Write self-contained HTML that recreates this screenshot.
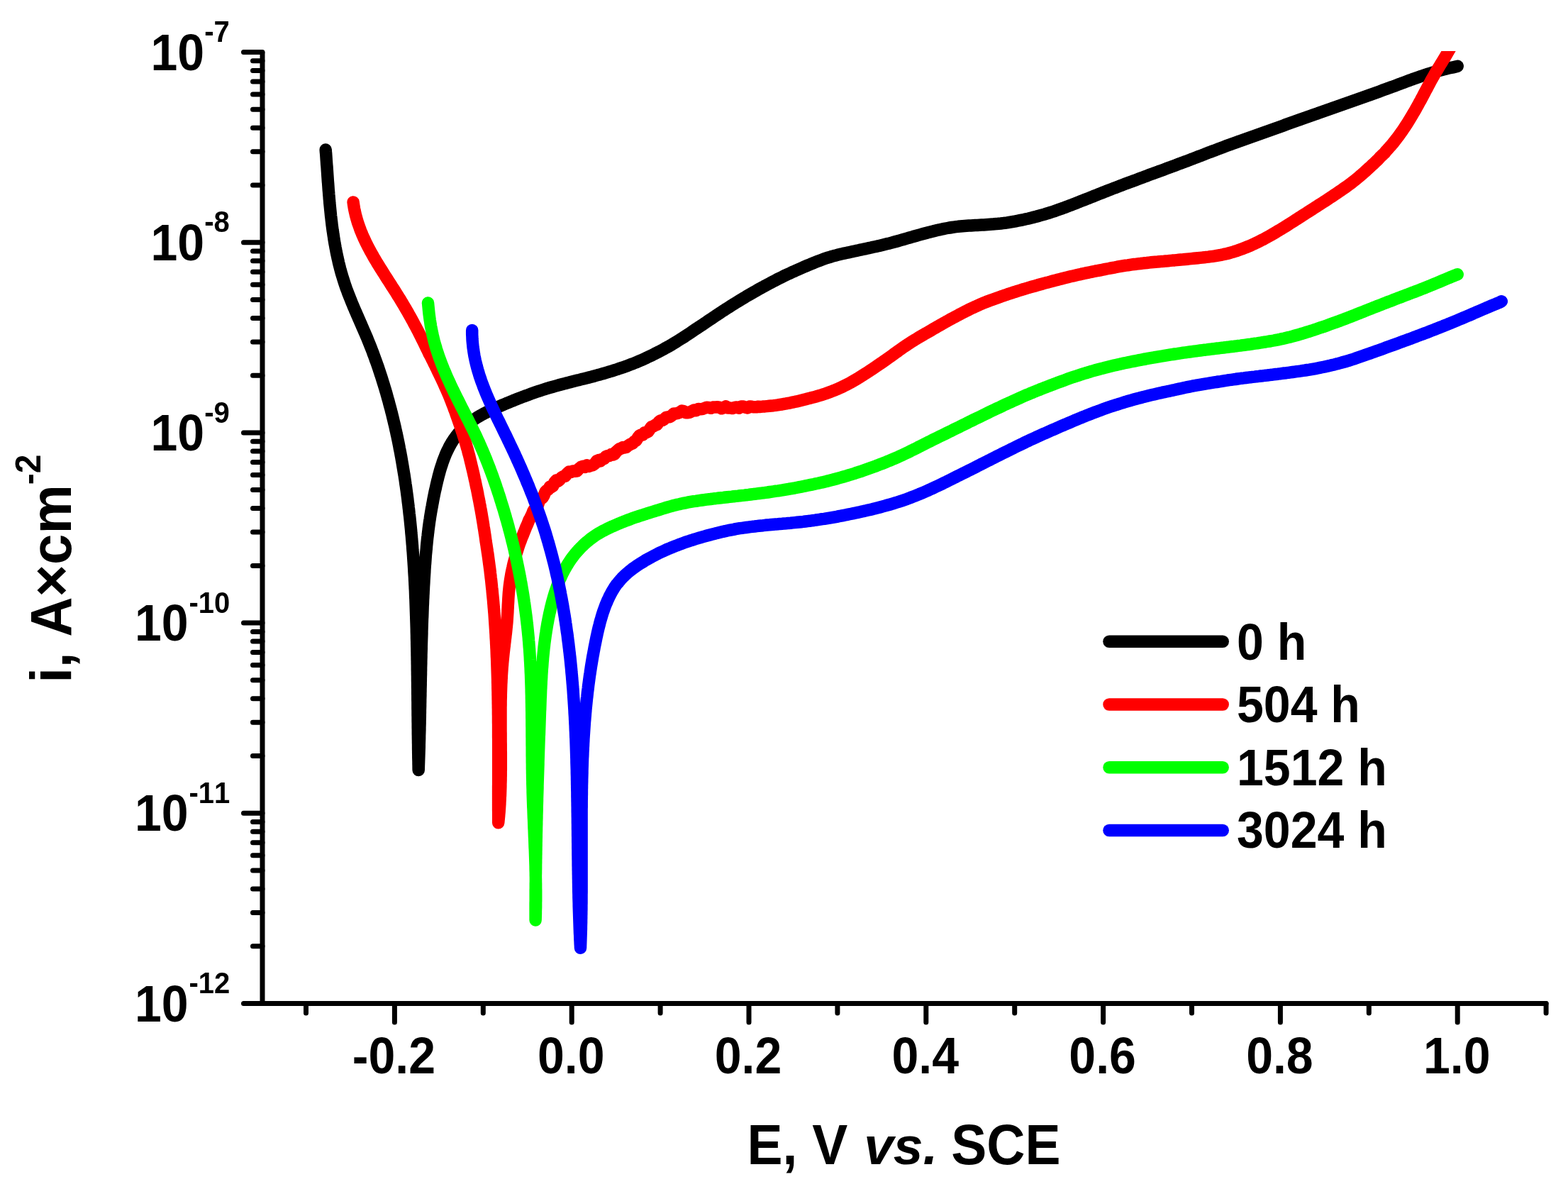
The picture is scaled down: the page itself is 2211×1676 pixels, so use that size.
<!DOCTYPE html>
<html lang="en"><head><meta charset="utf-8"><title>Polarization curves</title>
<style>html,body{margin:0;padding:0;background:#fff;}body{width:2211px;height:1676px;overflow:hidden;}svg{display:block;}text{font-family:'Liberation Sans', Arial, Helvetica, sans-serif;font-weight:bold;fill:#000;font-kerning:none;}</style>
</head><body>
<svg xmlns="http://www.w3.org/2000/svg" width="2211" height="1676" viewBox="0 0 2211 1676">
<rect width="2211" height="1676" fill="#ffffff"/>
<defs><clipPath id="plot"><rect x="300" y="72" width="1911" height="1400"/></clipPath></defs>
<g clip-path="url(#plot)">
<path d="M459.2,211.1 L459.4,214.1 L459.7,217.0 L459.9,220.0 L460.1,223.0 L460.3,226.0 L460.5,228.9 L460.7,231.9 L461.0,234.9 L461.2,237.9 L461.4,240.9 L461.6,243.9 L461.8,246.9 L462.0,249.9 L462.2,252.9 L462.4,256.0 L462.7,259.0 L462.9,262.0 L463.1,265.0 L463.3,268.0 L463.6,271.0 L463.8,274.1 L464.1,277.1 L464.3,280.1 L464.6,283.1 L464.8,286.2 L465.1,289.2 L465.4,292.2 L465.7,295.2 L466.0,298.2 L466.3,301.2 L466.6,304.3 L467.0,307.3 L467.3,310.3 L467.7,313.3 L468.0,316.3 L468.4,319.3 L468.8,322.3 L469.2,325.3 L469.7,328.3 L470.1,331.3 L470.6,334.3 L471.0,337.3 L471.5,340.3 L472.0,343.2 L472.6,346.2 L473.1,349.2 L473.7,352.1 L474.2,355.1 L474.8,358.0 L475.5,361.0 L476.1,363.9 L476.8,366.8 L477.4,369.8 L478.1,372.7 L478.9,375.6 L479.6,378.5 L480.4,381.4 L481.2,384.3 L482.0,387.1 L482.9,390.0 L483.8,392.9 L484.7,395.7 L485.6,398.6 L486.5,401.4 L487.5,404.2 L488.5,407.1 L489.6,409.9 L490.6,412.7 L491.7,415.5 L492.8,418.3 L493.9,421.0 L495.0,423.8 L496.1,426.6 L497.3,429.4 L498.4,432.1 L499.6,434.9 L500.8,437.7 L502.0,440.4 L503.2,443.2 L504.4,445.9 L505.6,448.7 L506.8,451.4 L508.0,454.2 L509.2,456.9 L510.4,459.7 L511.6,462.5 L512.8,465.2 L514.0,468.0 L515.2,470.7 L516.4,473.5 L517.6,476.3 L518.7,479.1 L519.8,481.9 L521.0,484.7 L522.1,487.5 L523.2,490.3 L524.3,493.1 L525.4,495.9 L526.4,498.8 L527.5,501.6 L528.5,504.4 L529.5,507.3 L530.6,510.1 L531.6,513.0 L532.6,515.8 L533.6,518.7 L534.5,521.5 L535.5,524.4 L536.4,527.3 L537.4,530.2 L538.3,533.0 L539.2,535.9 L540.1,538.8 L541.0,541.7 L541.9,544.6 L542.8,547.5 L543.6,550.3 L544.5,553.2 L545.3,556.1 L546.1,559.0 L546.9,561.9 L547.8,564.8 L548.5,567.7 L549.3,570.7 L550.1,573.6 L550.9,576.5 L551.6,579.4 L552.4,582.3 L553.1,585.2 L553.8,588.1 L554.5,591.1 L555.2,594.0 L555.9,596.9 L556.6,599.8 L557.3,602.8 L557.9,605.7 L558.6,608.6 L559.2,611.6 L559.9,614.5 L560.5,617.4 L561.1,620.4 L561.7,623.3 L562.3,626.3 L562.9,629.2 L563.4,632.2 L564.0,635.1 L564.6,638.1 L565.1,641.0 L565.7,644.0 L566.2,646.9 L566.7,649.9 L567.2,652.8 L567.7,655.8 L568.2,658.8 L568.7,661.7 L569.2,664.7 L569.7,667.7 L570.2,670.6 L570.6,673.6 L571.1,676.6 L571.5,679.5 L571.9,682.5 L572.4,685.5 L572.8,688.5 L573.2,691.4 L573.6,694.4 L574.0,697.4 L574.4,700.4 L574.8,703.4 L575.1,706.3 L575.5,709.3 L575.9,712.3 L576.2,715.3 L576.6,718.3 L576.9,721.3 L577.2,724.3 L577.6,727.3 L577.9,730.2 L578.2,733.2 L578.5,736.2 L578.8,739.2 L579.1,742.2 L579.4,745.2 L579.7,748.2 L579.9,751.2 L580.2,754.2 L580.5,757.2 L580.7,760.2 L581.0,763.2 L581.2,766.2 L581.5,769.2 L581.7,772.2 L581.9,775.3 L582.2,778.3 L582.4,781.3 L582.6,784.3 L582.8,787.3 L583.0,790.3 L583.2,793.3 L583.4,796.3 L583.6,799.3 L583.8,802.3 L583.9,805.4 L584.1,808.4 L584.3,811.4 L584.5,814.4 L584.6,817.4 L584.8,820.4 L584.9,823.4 L585.1,826.5 L585.2,829.5 L585.4,832.5 L585.5,835.5 L585.6,838.5 L585.7,841.6 L585.9,844.6 L586.0,847.6 L586.1,850.6 L586.2,853.6 L586.3,856.7 L586.4,859.7 L586.5,862.7 L586.6,865.7 L586.7,868.7 L586.8,871.8 L586.9,874.8 L587.0,877.8 L587.1,880.8 L587.2,883.9 L587.3,886.9 L587.3,889.9 L587.4,892.9 L587.5,895.9 L587.5,899.0 L587.6,902.0 L587.7,905.0 L587.7,908.0 L587.8,911.1 L587.9,914.1 L587.9,917.1 L588.0,920.1 L588.0,923.1 L588.1,926.2 L588.1,929.2 L588.2,932.2 L588.2,935.2 L588.3,938.3 L588.3,941.3 L588.3,944.3 L588.4,947.3 L588.4,950.3 L588.5,953.4 L588.5,956.4 L588.5,959.4 L588.6,962.4 L588.6,965.4 L588.6,968.4 L588.7,971.5 L588.7,974.5 L588.7,977.5 L588.8,980.5 L588.8,983.5 L588.8,986.5 L588.9,989.6 L588.9,992.6 L588.9,995.6 L588.9,998.6 L589.0,1001.6 L589.0,1004.6 L589.0,1007.6 L589.1,1010.6 L589.1,1013.6 L589.1,1016.7 L589.2,1019.7 L589.2,1022.7 L589.2,1025.7 L589.3,1028.7 L589.3,1031.7 L589.3,1034.7 L589.4,1037.7 L589.4,1040.7 L589.5,1043.7 L589.5,1046.7 L589.6,1049.7 L589.6,1052.7 L589.6,1055.7 L589.7,1058.7 L589.7,1061.7 L589.8,1064.7 L589.8,1067.7 L589.9,1070.7 L590.0,1073.6 L590.0,1076.6 L590.1,1079.6 L590.1,1082.6 L590.2,1085.6 L590.3,1082.6 L590.4,1079.6 L590.5,1076.6 L590.6,1073.6 L590.7,1070.6 L590.8,1067.6 L590.9,1064.6 L591.0,1061.6 L591.1,1058.6 L591.2,1055.6 L591.3,1052.6 L591.3,1049.6 L591.4,1046.6 L591.5,1043.6 L591.6,1040.6 L591.6,1037.6 L591.7,1034.6 L591.8,1031.6 L591.9,1028.6 L591.9,1025.6 L592.0,1022.6 L592.1,1019.6 L592.1,1016.6 L592.2,1013.6 L592.3,1010.5 L592.3,1007.5 L592.4,1004.5 L592.4,1001.5 L592.5,998.5 L592.6,995.5 L592.6,992.5 L592.7,989.5 L592.7,986.5 L592.8,983.5 L592.9,980.5 L592.9,977.5 L593.0,974.5 L593.0,971.4 L593.1,968.4 L593.2,965.4 L593.2,962.4 L593.3,959.4 L593.3,956.4 L593.4,953.4 L593.5,950.4 L593.5,947.4 L593.6,944.4 L593.6,941.3 L593.7,938.3 L593.8,935.3 L593.8,932.3 L593.9,929.3 L594.0,926.3 L594.0,923.3 L594.1,920.3 L594.2,917.3 L594.3,914.3 L594.3,911.3 L594.4,908.3 L594.5,905.2 L594.6,902.2 L594.7,899.2 L594.8,896.2 L594.9,893.2 L594.9,890.2 L595.0,887.2 L595.1,884.2 L595.2,881.2 L595.3,878.2 L595.4,875.2 L595.5,872.2 L595.7,869.2 L595.8,866.2 L595.9,863.2 L596.0,860.2 L596.1,857.2 L596.2,854.2 L596.4,851.2 L596.5,848.2 L596.6,845.2 L596.8,842.2 L596.9,839.2 L597.1,836.2 L597.2,833.2 L597.4,830.2 L597.5,827.2 L597.7,824.2 L597.9,821.2 L598.0,818.2 L598.2,815.2 L598.4,812.2 L598.6,809.2 L598.8,806.2 L598.9,803.2 L599.1,800.2 L599.3,797.2 L599.6,794.2 L599.8,791.2 L600.0,788.2 L600.2,785.3 L600.4,782.3 L600.7,779.3 L601.0,776.3 L601.3,773.3 L601.5,770.3 L601.8,767.3 L602.1,764.4 L602.4,761.4 L602.7,758.4 L603.1,755.4 L603.4,752.4 L603.8,749.5 L604.1,746.5 L604.5,743.5 L604.9,740.5 L605.3,737.5 L605.7,734.6 L606.2,731.6 L606.6,728.6 L607.1,725.6 L607.6,722.6 L608.1,719.7 L608.6,716.7 L609.2,713.7 L609.7,710.7 L610.3,707.7 L610.8,704.8 L611.4,701.8 L612.0,698.8 L612.6,695.8 L613.2,692.8 L613.9,689.9 L614.6,686.9 L615.2,683.9 L615.9,680.9 L616.6,677.9 L617.4,674.9 L618.1,672.0 L618.9,669.0 L619.7,666.1 L620.5,663.1 L621.4,660.2 L622.3,657.3 L623.3,654.4 L624.2,651.5 L625.2,648.7 L626.3,645.9 L627.4,643.1 L628.5,640.3 L629.7,637.6 L631.0,634.9 L632.3,632.3 L633.6,629.6 L635.0,627.1 L636.5,624.5 L638.0,622.1 L639.6,619.6 L641.3,617.2 L643.0,614.9 L644.8,612.6 L646.6,610.4 L648.5,608.2 L650.5,606.1 L652.5,604.0 L654.6,602.0 L656.8,600.1 L659.0,598.2 L661.2,596.4 L663.6,594.6 L665.9,592.9 L668.4,591.3 L670.8,589.7 L673.3,588.1 L675.9,586.6 L678.5,585.1 L681.1,583.7 L683.7,582.3 L686.4,581.0 L689.1,579.6 L691.9,578.3 L694.6,577.1 L697.4,575.9 L700.2,574.7 L703.0,573.3 L705.8,572.1 L708.6,570.9 L711.4,569.7 L714.2,568.5 L717.1,567.4 L719.9,566.2 L722.7,565.1 L725.5,563.9 L728.4,562.8 L731.2,561.7 L734.0,560.6 L736.7,559.5 L739.6,558.5 L742.4,557.4 L745.3,556.4 L748.1,555.3 L751.0,554.3 L753.8,553.3 L756.7,552.3 L759.5,551.4 L762.4,550.4 L765.2,549.5 L768.1,548.6 L771.0,547.7 L773.8,546.8 L776.7,546.0 L779.6,545.2 L782.5,544.4 L785.3,543.6 L788.2,542.8 L791.1,542.0 L794.0,541.2 L796.9,540.5 L799.8,539.7 L802.7,539.0 L805.6,538.2 L808.4,537.5 L811.3,536.8 L814.2,536.1 L817.1,535.4 L820.0,534.6 L822.9,533.9 L825.8,533.2 L828.7,532.5 L831.6,531.7 L834.5,531.0 L837.4,530.2 L840.3,529.4 L843.1,528.6 L846.0,527.9 L848.9,527.0 L851.8,526.2 L854.6,525.4 L857.5,524.5 L860.3,523.7 L863.2,522.8 L866.0,521.9 L868.9,521.0 L871.7,520.1 L874.5,519.1 L877.3,518.2 L880.1,517.2 L882.9,516.2 L885.7,515.2 L888.5,514.1 L891.3,513.1 L894.0,512.0 L896.8,510.9 L899.5,509.7 L902.2,508.6 L904.9,507.4 L907.6,506.2 L910.3,505.0 L913.0,503.7 L915.7,502.4 L918.3,501.2 L921.0,499.9 L923.6,498.5 L926.3,497.2 L928.9,495.8 L931.5,494.5 L934.1,493.1 L936.7,491.7 L939.3,490.2 L941.9,488.8 L944.5,487.3 L947.1,485.8 L949.6,484.3 L952.2,482.7 L954.8,481.1 L957.3,479.5 L959.9,477.9 L962.4,476.3 L965.0,474.7 L967.5,473.0 L970.0,471.4 L972.6,469.7 L975.1,468.0 L977.6,466.3 L980.1,464.6 L982.7,462.9 L985.2,461.2 L987.7,459.6 L990.2,457.9 L992.7,456.2 L995.3,454.5 L997.8,452.8 L1000.3,451.1 L1002.8,449.4 L1005.3,447.7 L1007.9,446.0 L1010.4,444.3 L1012.9,442.7 L1015.4,441.0 L1018.0,439.3 L1020.5,437.7 L1023.0,436.0 L1025.6,434.4 L1028.1,432.8 L1030.6,431.2 L1033.2,429.5 L1035.7,428.0 L1038.3,426.4 L1040.8,424.8 L1043.4,423.2 L1045.9,421.7 L1048.5,420.2 L1051.1,418.6 L1053.6,417.1 L1056.2,415.6 L1058.8,414.1 L1061.4,412.6 L1064.0,411.1 L1066.6,409.7 L1069.2,408.2 L1071.8,406.7 L1074.4,405.3 L1077.0,403.9 L1079.6,402.4 L1082.3,401.0 L1084.9,399.6 L1087.5,398.2 L1090.2,396.8 L1092.9,395.4 L1095.5,394.0 L1098.2,392.7 L1100.9,391.4 L1103.6,390.0 L1106.2,388.7 L1108.9,387.4 L1111.7,386.1 L1114.4,384.9 L1117.1,383.6 L1119.8,382.4 L1122.6,381.1 L1125.3,379.9 L1128.1,378.7 L1130.9,377.5 L1133.6,376.3 L1136.4,375.1 L1139.2,373.9 L1142.0,372.8 L1144.8,371.6 L1147.6,370.5 L1150.4,369.3 L1153.2,368.2 L1156.0,367.2 L1158.9,366.1 L1161.7,365.1 L1164.6,364.1 L1167.4,363.2 L1170.3,362.3 L1173.1,361.4 L1176.0,360.6 L1178.9,359.9 L1181.7,359.1 L1184.6,358.4 L1187.5,357.8 L1190.4,357.1 L1193.3,356.5 L1196.2,355.9 L1199.1,355.2 L1202.0,354.6 L1204.9,354.0 L1207.8,353.4 L1210.7,352.8 L1213.6,352.1 L1216.5,351.5 L1219.4,350.9 L1222.3,350.2 L1225.2,349.6 L1228.2,349.0 L1231.1,348.3 L1234.0,347.7 L1236.9,347.1 L1239.8,346.4 L1242.8,345.7 L1245.7,345.0 L1248.6,344.3 L1251.5,343.6 L1254.4,342.9 L1257.3,342.1 L1260.3,341.3 L1263.2,340.5 L1266.1,339.7 L1269.0,338.9 L1271.9,338.0 L1274.8,337.2 L1277.7,336.4 L1280.6,335.5 L1283.5,334.7 L1286.4,333.9 L1289.4,333.0 L1292.3,332.2 L1295.2,331.4 L1298.1,330.6 L1301.0,329.8 L1303.9,329.0 L1306.9,328.2 L1309.8,327.4 L1312.7,326.7 L1315.6,326.0 L1318.6,325.2 L1321.5,324.5 L1324.4,323.9 L1327.4,323.2 L1330.3,322.6 L1333.3,322.0 L1336.2,321.5 L1339.2,321.0 L1342.2,320.5 L1345.1,320.1 L1348.1,319.7 L1351.1,319.3 L1354.1,319.0 L1357.1,318.7 L1360.1,318.5 L1363.1,318.3 L1366.1,318.1 L1369.1,317.9 L1372.1,317.7 L1375.1,317.5 L1378.1,317.4 L1381.2,317.2 L1384.2,317.0 L1387.2,316.9 L1390.2,316.7 L1393.2,316.5 L1396.2,316.3 L1399.2,316.1 L1402.2,315.8 L1405.2,315.6 L1408.2,315.3 L1411.2,315.0 L1414.2,314.6 L1417.2,314.3 L1420.2,313.9 L1423.1,313.4 L1426.1,312.9 L1429.0,312.4 L1432.0,311.9 L1434.9,311.3 L1437.9,310.7 L1440.8,310.1 L1443.7,309.5 L1446.7,308.8 L1449.6,308.2 L1452.5,307.5 L1455.4,306.8 L1458.3,306.0 L1461.2,305.3 L1464.1,304.5 L1466.9,303.7 L1469.8,302.9 L1472.7,302.1 L1475.6,301.2 L1478.4,300.3 L1481.3,299.4 L1484.2,298.5 L1487.0,297.6 L1489.9,296.6 L1492.7,295.6 L1495.6,294.6 L1498.4,293.5 L1501.3,292.5 L1504.1,291.4 L1506.9,290.3 L1509.8,289.3 L1512.6,288.2 L1515.4,287.1 L1518.3,286.0 L1521.1,284.8 L1523.9,283.7 L1526.7,282.6 L1529.6,281.5 L1532.4,280.4 L1535.2,279.3 L1538.0,278.2 L1540.8,277.1 L1543.6,275.9 L1546.4,274.8 L1549.2,273.7 L1552.0,272.6 L1554.8,271.5 L1557.6,270.4 L1560.5,269.3 L1563.3,268.2 L1566.1,267.1 L1568.8,266.0 L1571.6,264.9 L1574.4,263.9 L1577.2,262.8 L1580.0,261.7 L1582.8,260.7 L1585.6,259.6 L1588.4,258.6 L1591.2,257.5 L1594.0,256.5 L1596.8,255.5 L1599.6,254.4 L1602.4,253.4 L1605.2,252.3 L1608.0,251.3 L1610.8,250.3 L1613.6,249.2 L1616.3,248.2 L1619.1,247.1 L1621.9,246.1 L1624.7,245.1 L1627.5,244.0 L1630.3,243.0 L1633.1,242.0 L1635.9,240.9 L1638.7,239.9 L1641.5,238.9 L1644.3,237.8 L1647.1,236.8 L1649.9,235.8 L1652.7,234.7 L1655.5,233.7 L1658.3,232.7 L1661.0,231.6 L1663.8,230.6 L1666.6,229.5 L1669.4,228.5 L1672.2,227.4 L1675.0,226.4 L1677.8,225.3 L1680.6,224.2 L1683.4,223.2 L1686.2,222.1 L1689.0,221.0 L1691.8,219.9 L1694.6,218.9 L1697.4,217.8 L1700.2,216.7 L1703.0,215.6 L1705.8,214.6 L1708.6,213.5 L1711.4,212.4 L1714.2,211.4 L1717.0,210.3 L1719.8,209.3 L1722.6,208.2 L1725.4,207.2 L1728.2,206.1 L1731.0,205.1 L1733.8,204.1 L1736.6,203.0 L1739.5,202.0 L1742.3,201.0 L1745.1,200.0 L1747.9,198.9 L1750.7,197.9 L1753.5,196.9 L1756.3,195.9 L1759.1,194.9 L1761.9,193.9 L1764.7,192.9 L1767.6,191.9 L1770.4,190.9 L1773.2,189.9 L1776.0,188.9 L1778.8,187.9 L1781.6,186.9 L1784.4,185.9 L1787.3,184.9 L1790.1,183.9 L1792.9,182.9 L1795.7,181.9 L1798.5,180.9 L1801.4,179.9 L1804.2,178.9 L1807.0,177.9 L1809.8,176.9 L1812.7,175.8 L1815.5,174.8 L1818.3,173.8 L1821.1,172.8 L1824.0,171.8 L1826.8,170.8 L1829.6,169.8 L1832.5,168.7 L1835.3,167.7 L1838.1,166.7 L1841.0,165.7 L1843.8,164.7 L1846.7,163.7 L1849.5,162.7 L1852.3,161.7 L1855.2,160.7 L1858.0,159.8 L1860.8,158.8 L1863.7,157.8 L1866.5,156.8 L1869.4,155.8 L1872.2,154.8 L1875.1,153.8 L1877.9,152.8 L1880.7,151.8 L1883.6,150.8 L1886.4,149.8 L1889.3,148.8 L1892.1,147.8 L1894.9,146.8 L1897.8,145.8 L1900.6,144.8 L1903.5,143.8 L1906.3,142.8 L1909.1,141.8 L1912.0,140.8 L1914.8,139.8 L1917.6,138.8 L1920.5,137.8 L1923.3,136.8 L1926.1,135.8 L1928.9,134.8 L1931.8,133.7 L1934.6,132.7 L1937.4,131.7 L1940.2,130.7 L1943.1,129.7 L1945.9,128.7 L1948.7,127.6 L1951.5,126.6 L1954.3,125.6 L1957.1,124.5 L1959.9,123.5 L1962.7,122.4 L1965.6,121.4 L1968.4,120.4 L1971.2,119.3 L1974.0,118.3 L1976.8,117.2 L1979.6,116.2 L1982.5,115.1 L1985.3,114.1 L1988.1,113.0 L1991.0,112.0 L1993.8,110.9 L1996.6,109.9 L1999.5,108.9 L2002.3,107.9 L2005.2,107.0 L2008.1,106.0 L2010.9,105.1 L2013.8,104.2 L2016.7,103.3 L2019.6,102.4 L2022.5,101.5 L2025.4,100.7 L2028.4,99.9 L2031.3,99.0 L2034.3,98.2 L2037.2,97.5 L2040.2,96.7 L2043.2,96.0 L2046.1,95.4 L2049.2,94.8 L2052.2,94.2 L2055.2,93.3" fill="none" stroke="#000000" stroke-width="17.5" stroke-linecap="round" stroke-linejoin="round"/>
<path d="M498.1,284.9 L498.5,287.9 L499.0,291.0 L499.5,294.0 L500.1,296.9 L500.8,299.9 L501.4,302.8 L502.2,305.7 L503.0,308.6 L503.8,311.4 L504.7,314.3 L505.7,317.1 L506.7,319.9 L507.7,322.7 L508.7,325.5 L509.9,328.2 L511.0,331.0 L512.2,333.7 L513.4,336.4 L514.7,339.1 L515.9,341.8 L517.3,344.5 L518.6,347.1 L520.0,349.8 L521.4,352.4 L522.8,355.0 L524.3,357.6 L525.7,360.2 L527.2,362.8 L528.7,365.4 L530.3,368.0 L531.8,370.6 L533.4,373.2 L535.0,375.7 L536.6,378.3 L538.2,380.8 L539.8,383.4 L541.4,385.9 L543.0,388.5 L544.6,391.0 L546.3,393.6 L547.9,396.1 L549.6,398.7 L551.2,401.2 L552.8,403.8 L554.5,406.3 L556.1,408.9 L557.7,411.4 L559.3,414.0 L560.9,416.6 L562.5,419.1 L564.1,421.7 L565.7,424.3 L567.2,426.9 L568.8,429.5 L570.3,432.1 L571.8,434.7 L573.4,437.3 L574.9,439.9 L576.3,442.5 L577.8,445.1 L579.3,447.8 L580.7,450.4 L582.2,453.0 L583.6,455.7 L585.0,458.3 L586.5,461.0 L587.9,463.7 L589.3,466.3 L590.6,469.0 L592.0,471.7 L593.4,474.4 L594.7,477.1 L596.0,479.8 L597.4,482.5 L598.7,485.2 L600.0,487.9 L601.3,490.6 L602.6,493.3 L603.9,496.0 L605.1,498.7 L606.7,501.5 L608.1,504.2 L609.4,506.9 L610.8,509.7 L612.1,512.4 L613.5,515.2 L614.8,517.9 L616.2,520.7 L617.5,523.5 L618.8,526.2 L620.2,529.0 L621.5,531.8 L622.8,534.5 L624.1,537.3 L625.4,540.1 L626.6,542.9 L627.9,545.7 L629.2,548.5 L630.4,551.3 L631.6,554.1 L632.8,556.9 L634.0,559.7 L635.1,562.6 L636.2,565.4 L637.3,568.2 L638.4,571.0 L639.5,573.9 L640.5,576.7 L641.6,579.5 L642.6,582.4 L643.6,585.2 L644.6,588.0 L645.6,590.9 L646.6,593.7 L647.6,596.6 L648.6,599.5 L649.5,602.3 L650.5,605.2 L651.4,608.0 L652.4,610.9 L653.3,613.8 L654.2,616.7 L655.1,619.5 L656.0,622.4 L656.9,625.3 L657.7,628.2 L658.5,631.1 L659.4,634.0 L660.1,636.9 L660.9,639.8 L661.7,642.6 L662.4,645.5 L663.1,648.5 L663.8,651.4 L664.5,654.3 L665.2,657.2 L665.9,660.1 L666.6,663.0 L667.3,665.9 L667.9,668.8 L668.6,671.8 L669.2,674.7 L669.9,677.6 L670.5,680.5 L671.1,683.5 L671.7,686.4 L672.4,689.3 L673.0,692.2 L673.6,695.2 L674.1,698.1 L674.7,701.1 L675.3,704.0 L675.9,706.9 L676.4,709.9 L677.0,712.8 L677.5,715.8 L678.1,718.7 L678.6,721.7 L679.1,724.6 L679.6,727.6 L680.1,730.5 L680.6,733.5 L681.1,736.5 L681.6,739.4 L682.0,742.4 L682.5,745.3 L683.0,748.3 L683.4,751.3 L683.9,754.2 L684.3,757.2 L684.7,760.2 L685.1,763.1 L685.6,766.1 L686.1,769.1 L686.5,772.1 L687.0,775.0 L687.4,778.0 L687.9,781.0 L688.3,784.0 L688.7,786.9 L689.1,789.9 L689.5,792.9 L689.9,795.9 L690.3,798.9 L690.7,801.8 L691.1,804.8 L691.4,807.8 L691.8,810.8 L692.1,813.8 L692.5,816.8 L692.8,819.7 L693.1,822.7 L693.4,825.7 L693.7,828.7 L694.1,831.7 L694.3,834.7 L694.6,837.7 L694.9,840.7 L695.2,843.7 L695.5,846.7 L695.7,849.7 L696.0,852.7 L696.2,855.7 L696.5,858.7 L696.7,861.7 L697.0,864.7 L697.2,867.7 L697.4,870.7 L697.6,873.7 L697.8,876.7 L698.0,879.7 L698.2,882.7 L698.4,885.7 L698.6,888.7 L698.8,891.7 L699.0,894.7 L699.1,897.7 L699.3,900.7 L699.5,903.7 L699.6,906.7 L699.8,909.7 L699.9,912.7 L700.1,915.7 L700.2,918.7 L700.3,921.7 L700.4,924.8 L700.6,927.8 L700.7,930.8 L700.8,933.8 L700.9,936.8 L701.0,939.8 L701.1,942.8 L701.2,945.8 L701.3,948.8 L701.4,951.9 L701.5,954.9 L701.6,957.9 L701.6,960.9 L701.7,963.9 L701.8,966.9 L701.8,969.9 L701.9,972.9 L702.0,976.0 L702.0,979.0 L702.1,982.0 L702.1,985.0 L702.2,988.0 L702.2,991.0 L702.3,994.1 L702.3,997.1 L702.4,1000.1 L702.4,1003.1 L702.4,1006.1 L702.5,1009.1 L702.5,1012.1 L702.5,1015.2 L702.5,1018.2 L702.6,1021.2 L702.6,1024.2 L702.6,1027.2 L702.6,1030.2 L702.6,1033.3 L702.6,1036.3 L702.6,1039.3 L702.7,1042.3 L702.7,1045.3 L702.7,1048.3 L702.7,1051.4 L702.7,1054.4 L702.7,1057.4 L702.7,1060.4 L702.7,1063.4 L702.7,1066.4 L702.7,1069.4 L702.7,1072.5 L702.7,1075.5 L702.7,1078.5 L702.7,1081.5 L702.7,1084.5 L702.7,1087.5 L702.7,1090.5 L702.7,1093.5 L702.7,1096.6 L702.7,1099.6 L702.7,1102.6 L702.7,1105.6 L702.6,1108.6 L702.6,1111.6 L702.6,1114.6 L702.6,1117.6 L702.6,1120.6 L702.6,1123.6 L702.6,1126.6 L702.6,1129.7 L702.6,1132.7 L702.6,1135.7 L702.6,1138.7 L702.6,1141.7 L702.7,1144.7 L702.7,1147.7 L702.7,1150.7 L702.7,1153.7 L702.7,1156.7 L702.7,1159.7 L703.0,1156.7 L703.3,1153.7 L703.6,1150.7 L703.8,1147.8 L704.1,1144.8 L704.3,1141.8 L704.5,1138.8 L704.7,1135.8 L704.9,1132.8 L705.0,1129.8 L705.2,1126.8 L705.3,1123.8 L705.5,1120.8 L705.6,1117.8 L705.7,1114.8 L705.8,1111.8 L705.9,1108.8 L705.9,1105.8 L706.0,1102.8 L706.1,1099.8 L706.1,1096.8 L706.2,1093.8 L706.2,1090.7 L706.2,1087.7 L706.3,1084.7 L706.3,1081.7 L706.3,1078.7 L706.3,1075.7 L706.3,1072.7 L706.3,1069.7 L706.3,1066.6 L706.3,1063.6 L706.3,1060.6 L706.2,1057.6 L706.2,1054.6 L706.2,1051.6 L706.2,1048.6 L706.1,1045.5 L706.1,1042.5 L706.1,1039.5 L706.1,1036.5 L706.1,1033.5 L706.0,1030.5 L706.0,1027.5 L706.0,1024.4 L706.0,1021.4 L706.0,1018.4 L706.0,1015.4 L706.0,1012.4 L706.0,1009.4 L706.0,1006.4 L706.0,1003.3 L706.0,1000.3 L706.0,997.3 L706.1,994.3 L706.1,991.3 L706.1,988.3 L706.2,985.3 L706.3,982.3 L706.3,979.3 L706.4,976.3 L706.5,973.2 L706.6,970.2 L706.7,967.2 L706.8,964.2 L707.0,961.2 L707.1,958.2 L707.3,955.2 L707.4,952.2 L707.6,949.2 L707.8,946.2 L708.0,943.2 L708.2,940.2 L708.5,937.3 L708.7,934.3 L709.0,931.3 L709.3,928.3 L709.6,925.3 L709.9,922.3 L710.2,919.3 L710.6,916.3 L710.9,913.4 L711.3,910.4 L711.6,907.4 L712.0,904.4 L712.3,901.4 L712.7,898.4 L713.0,895.4 L713.4,892.5 L713.7,889.5 L714.0,886.5 L714.3,883.5 L714.6,880.5 L714.9,877.5 L715.1,874.5 L715.3,871.5 L715.5,868.5 L715.7,865.5 L715.9,862.5 L716.0,859.4 L716.2,856.4 L716.3,853.4 L716.5,850.4 L716.7,847.4 L716.8,844.4 L717.0,841.4 L717.2,838.4 L717.4,835.4 L717.7,832.4 L718.0,829.4 L718.3,826.5 L718.7,823.5 L719.1,820.5 L719.5,817.6 L720.0,814.6 L720.5,811.7 L721.0,808.7 L721.6,805.8 L722.2,802.9 L722.9,800.0 L723.5,797.0 L724.2,794.1 L725.0,791.2 L725.8,788.3 L726.6,785.5 L727.4,782.6 L728.3,779.7 L729.2,776.8 L730.1,774.0 L731.0,771.1 L732.0,768.2 L733.0,765.4 L734.1,762.6 L735.1,759.7 L736.2,756.9 L737.4,754.2 L738.5,751.2 L739.7,748.4 L740.9,745.3 L742.1,742.3 L743.4,739.7 L744.7,736.3 L746.0,733.0 L747.4,730.8 L748.8,727.8 L750.3,724.6 L751.8,720.7 L753.3,718.1 L754.9,717.9 L756.5,716.0 L758.1,712.9 L759.9,707.6 L761.6,703.5 L763.4,702.8 L765.3,701.3 L767.2,697.9 L769.1,693.0 L771.1,691.1 L773.2,690.1 L775.3,686.3 L777.5,686.7 L779.7,685.0 L782.0,679.7 L784.4,677.0 L786.8,678.4 L789.2,676.2 L791.8,673.0 L794.4,671.5 L797.0,671.2 L799.7,667.6 L802.4,665.0 L805.1,665.5 L807.9,664.0 L810.7,664.3 L813.5,664.1 L816.3,660.8 L819.2,658.4 L822.0,657.2 L824.8,658.4 L827.6,655.9 L830.4,657.4 L833.2,656.3 L836.0,655.7 L838.7,653.6 L841.4,649.8 L844.0,648.6 L846.6,649.9 L849.2,647.2 L851.8,646.7 L854.3,643.6 L856.7,642.6 L859.2,642.6 L861.6,640.6 L864.0,641.1 L866.4,640.3 L868.8,636.9 L871.1,634.7 L873.5,632.7 L875.8,632.3 L878.2,630.5 L880.5,630.9 L882.9,630.4 L885.2,628.5 L887.5,627.0 L889.9,625.7 L892.2,624.9 L894.6,622.3 L897.0,621.0 L899.3,617.2 L901.7,614.1 L904.1,612.9 L906.5,612.9 L908.9,609.8 L911.4,609.7 L913.8,608.5 L916.3,604.9 L918.7,601.5 L921.2,601.0 L923.8,599.2 L926.3,598.7 L928.9,594.8 L931.4,592.8 L934.1,592.3 L936.7,590.8 L939.3,588.3 L942.0,587.8 L944.7,587.7 L947.4,585.6 L950.2,583.0 L952.9,583.0 L955.7,582.4 L958.5,581.3 L961.4,579.0 L964.2,579.5 L967.0,581.8 L969.9,581.7 L972.8,581.1 L975.7,579.5 L978.6,578.0 L981.6,578.7 L984.5,576.5 L987.5,576.7 L990.4,576.5 L993.4,575.4 L996.4,574.3 L999.4,574.5 L1002.4,575.3 L1005.4,574.1 L1008.4,573.9 L1011.4,573.8 L1014.5,574.1 L1017.5,575.8 L1020.6,574.6 L1023.6,572.8 L1026.7,575.0 L1029.7,575.0 L1032.8,575.6 L1035.8,574.5 L1038.9,574.0 L1041.9,575.2 L1045.0,573.1 L1048.1,573.0 L1051.1,574.3 L1054.2,575.0 L1057.2,573.0 L1060.3,573.3 L1063.3,573.8 L1066.4,573.8 L1069.4,573.2 L1072.4,573.4 L1075.5,573.1 L1078.5,572.9 L1081.5,572.6 L1084.6,572.3 L1087.6,572.0 L1090.6,571.7 L1093.6,571.3 L1096.6,570.9 L1099.6,570.4 L1102.6,570.0 L1105.6,569.4 L1108.6,568.9 L1111.5,568.3 L1114.5,567.8 L1117.5,567.1 L1120.4,566.5 L1123.3,565.9 L1126.3,565.2 L1129.2,564.5 L1132.1,563.8 L1135.0,563.1 L1137.9,562.3 L1140.8,561.6 L1143.7,560.8 L1146.6,560.1 L1149.4,559.3 L1152.3,558.5 L1155.1,557.6 L1157.9,556.8 L1160.8,555.9 L1163.6,555.0 L1166.4,554.0 L1169.1,553.0 L1171.9,552.0 L1174.6,550.9 L1177.4,549.8 L1180.1,548.7 L1182.8,547.5 L1185.5,546.3 L1188.2,545.0 L1190.9,543.7 L1193.5,542.4 L1196.2,541.0 L1198.8,539.6 L1201.4,538.1 L1204.0,536.6 L1206.6,535.1 L1209.2,533.6 L1211.8,532.0 L1214.3,530.4 L1216.9,528.8 L1219.4,527.2 L1221.9,525.6 L1224.4,524.0 L1226.9,522.3 L1229.4,520.7 L1231.9,519.0 L1234.3,517.3 L1236.8,515.7 L1239.2,514.0 L1241.6,512.4 L1244.1,510.7 L1246.5,509.0 L1248.9,507.4 L1251.3,505.7 L1253.6,504.0 L1256.0,502.3 L1258.4,500.6 L1260.7,498.9 L1263.1,497.2 L1265.5,495.5 L1267.8,493.8 L1270.2,492.1 L1272.6,490.4 L1275.0,488.7 L1277.4,487.1 L1279.9,485.4 L1282.4,483.8 L1284.9,482.2 L1287.4,480.6 L1290.0,479.0 L1292.6,477.5 L1295.1,475.9 L1297.7,474.4 L1300.3,472.9 L1302.9,471.4 L1305.5,469.8 L1308.2,468.3 L1310.8,466.8 L1313.4,465.3 L1315.9,463.8 L1318.5,462.3 L1321.1,460.8 L1323.7,459.4 L1326.3,457.9 L1328.8,456.4 L1331.4,455.0 L1334.0,453.5 L1336.6,452.1 L1339.1,450.7 L1341.7,449.3 L1344.3,447.9 L1346.9,446.5 L1349.5,445.1 L1352.1,443.7 L1354.7,442.4 L1357.3,441.0 L1359.9,439.7 L1362.5,438.3 L1365.2,437.0 L1367.8,435.7 L1370.5,434.4 L1373.1,433.2 L1375.8,431.9 L1378.5,430.7 L1381.2,429.5 L1383.9,428.3 L1386.6,427.2 L1389.3,426.1 L1392.1,425.0 L1394.8,424.0 L1397.6,422.9 L1400.4,421.9 L1403.2,420.9 L1406.0,419.9 L1408.8,418.9 L1411.6,417.9 L1414.4,417.0 L1417.2,416.0 L1420.1,415.1 L1422.9,414.1 L1425.8,413.2 L1428.6,412.2 L1431.5,411.3 L1434.4,410.4 L1437.3,409.5 L1440.2,408.6 L1443.0,407.7 L1445.9,406.9 L1448.8,406.0 L1451.7,405.1 L1454.6,404.3 L1457.6,403.5 L1460.5,402.7 L1463.4,401.8 L1466.3,401.0 L1469.2,400.2 L1472.1,399.4 L1475.0,398.6 L1478.0,397.9 L1480.9,397.1 L1483.8,396.3 L1486.8,395.5 L1489.7,394.8 L1492.6,394.0 L1495.6,393.3 L1498.5,392.5 L1501.4,391.8 L1504.4,391.1 L1507.3,390.3 L1510.3,389.6 L1513.2,388.9 L1516.2,388.2 L1519.1,387.5 L1522.1,386.9 L1525.0,386.2 L1528.0,385.6 L1530.9,384.9 L1533.9,384.3 L1536.8,383.7 L1539.8,383.1 L1542.8,382.5 L1545.7,381.9 L1548.7,381.4 L1551.7,380.8 L1554.6,380.2 L1557.6,379.6 L1560.6,379.0 L1563.5,378.5 L1566.5,377.9 L1569.5,377.3 L1572.5,376.8 L1575.4,376.2 L1578.4,375.7 L1581.4,375.2 L1584.4,374.7 L1587.3,374.2 L1590.3,373.8 L1593.3,373.3 L1596.3,372.9 L1599.3,372.5 L1602.3,372.2 L1605.2,371.8 L1608.2,371.5 L1611.2,371.1 L1614.2,370.8 L1617.2,370.5 L1620.2,370.1 L1623.2,369.8 L1626.2,369.5 L1629.2,369.2 L1632.2,369.0 L1635.2,368.7 L1638.2,368.4 L1641.2,368.2 L1644.2,367.9 L1647.2,367.7 L1650.2,367.4 L1653.2,367.1 L1656.2,366.9 L1659.2,366.6 L1662.2,366.3 L1665.2,366.0 L1668.2,365.8 L1671.2,365.5 L1674.2,365.2 L1677.2,364.9 L1680.1,364.6 L1683.1,364.3 L1686.1,364.0 L1689.1,363.7 L1692.1,363.4 L1695.1,363.1 L1698.0,362.8 L1701.0,362.4 L1704.0,362.1 L1706.9,361.7 L1709.9,361.3 L1712.8,360.9 L1715.8,360.4 L1718.7,359.9 L1721.6,359.4 L1724.5,358.8 L1727.4,358.1 L1730.3,357.5 L1733.2,356.7 L1736.1,355.9 L1738.9,355.1 L1741.8,354.2 L1744.6,353.3 L1747.4,352.3 L1750.2,351.3 L1753.1,350.2 L1755.8,349.1 L1758.6,348.0 L1761.4,346.9 L1764.1,345.7 L1766.9,344.4 L1769.6,343.2 L1772.3,341.9 L1775.0,340.6 L1777.6,339.2 L1780.3,337.9 L1783.0,336.5 L1785.6,335.0 L1788.2,333.6 L1790.9,332.1 L1793.5,330.6 L1796.1,329.1 L1798.7,327.6 L1801.2,326.1 L1803.8,324.5 L1806.4,323.0 L1809.0,321.4 L1811.5,319.8 L1814.1,318.2 L1816.6,316.6 L1819.1,315.0 L1821.7,313.4 L1824.2,311.8 L1826.7,310.2 L1829.2,308.6 L1831.8,306.9 L1834.3,305.3 L1836.8,303.7 L1839.3,302.1 L1841.8,300.5 L1844.3,298.9 L1846.9,297.3 L1849.4,295.7 L1851.9,294.0 L1854.4,292.4 L1856.9,290.8 L1859.4,289.2 L1861.9,287.6 L1864.4,286.0 L1866.9,284.4 L1869.4,282.8 L1871.8,281.2 L1874.3,279.5 L1876.8,277.9 L1879.3,276.3 L1881.8,274.6 L1884.2,273.0 L1886.7,271.3 L1889.2,269.6 L1891.6,268.0 L1894.1,266.2 L1896.5,264.5 L1898.9,262.8 L1901.4,261.0 L1903.8,259.2 L1906.2,257.4 L1908.6,255.5 L1911.1,253.6 L1913.5,251.6 L1915.9,249.6 L1918.2,247.6 L1920.6,245.6 L1923.0,243.5 L1925.4,241.4 L1927.7,239.3 L1930.0,237.1 L1932.4,235.0 L1934.7,232.8 L1937.0,230.7 L1939.3,228.5 L1941.5,226.4 L1943.8,224.2 L1946.0,221.6 L1948.2,219.5 L1950.4,217.5 L1952.6,215.4 L1954.1,213.3 L1956.1,211.2 L1958.0,209.1 L1959.9,206.9 L1961.8,204.8 L1963.7,202.6 L1965.5,200.4 L1967.2,198.2 L1969.0,195.9 L1970.7,193.6 L1972.4,191.4 L1974.1,189.0 L1975.7,186.7 L1977.4,184.4 L1979.0,182.0 L1980.6,179.6 L1982.2,177.2 L1983.8,174.7 L1985.3,172.3 L1986.9,169.8 L1988.4,167.3 L1989.9,164.8 L1991.4,162.3 L1992.9,159.7 L1994.4,157.2 L1995.9,154.6 L1997.3,152.0 L1998.8,149.4 L2000.2,146.8 L2001.6,144.2 L2003.1,141.6 L2004.5,138.9 L2005.9,136.3 L2007.3,133.6 L2008.7,131.0 L2010.1,128.3 L2011.6,125.6 L2013.0,122.9 L2014.4,120.2 L2015.9,117.5 L2017.3,114.8 L2018.8,112.1 L2020.3,109.4 L2021.9,106.7 L2023.4,103.9 L2025.0,101.2 L2026.7,98.5 L2028.3,95.8 L2029.9,93.1 L2031.6,90.3 L2033.3,87.6 L2034.9,84.9 L2036.6,82.2 L2038.2,79.5 L2039.8,76.8 L2041.4,74.1 L2042.9,71.4 L2044.5,68.7 L2045.9,66.0 L2047.4,63.3 L2048.8,60.7 L2050.2,58.0" fill="none" stroke="#ff0000" stroke-width="17.5" stroke-linecap="round" stroke-linejoin="round"/>
<path d="M603.5,427.0 L603.8,430.0 L604.1,433.0 L604.4,436.1 L604.7,439.1 L605.0,442.1 L605.4,445.1 L605.8,448.1 L606.2,451.1 L606.7,454.1 L607.1,457.0 L607.6,460.0 L608.2,463.0 L608.8,465.9 L609.4,468.9 L610.0,471.8 L610.7,474.7 L611.4,477.7 L612.1,480.6 L612.9,483.5 L613.7,486.3 L614.6,489.2 L615.4,492.1 L616.3,494.9 L617.3,497.8 L618.2,500.6 L619.2,503.5 L620.2,506.3 L621.3,509.1 L622.3,511.9 L623.4,514.7 L624.5,517.5 L625.6,520.3 L626.8,523.0 L628.0,525.8 L629.1,528.6 L630.3,531.3 L631.6,534.1 L632.8,536.8 L634.1,539.5 L635.3,542.3 L636.6,545.0 L637.9,547.7 L639.2,550.4 L640.5,553.1 L641.8,555.8 L643.2,558.5 L644.5,561.2 L645.9,563.9 L647.2,566.6 L648.6,569.3 L649.9,572.0 L651.3,574.7 L652.7,577.3 L654.0,580.0 L655.4,582.7 L656.8,585.4 L658.1,588.1 L659.5,590.8 L660.9,593.5 L662.2,596.2 L663.6,598.9 L664.9,601.6 L666.2,604.3 L667.6,607.0 L668.9,609.7 L670.2,612.4 L671.5,615.1 L672.7,617.8 L674.0,620.6 L675.3,623.3 L676.5,626.1 L677.7,628.8 L678.9,631.6 L680.1,634.3 L681.3,637.1 L682.5,639.9 L683.6,642.7 L684.8,645.5 L685.9,648.3 L687.0,651.1 L688.1,653.9 L689.2,656.7 L690.3,659.5 L691.3,662.3 L692.4,665.1 L693.4,668.0 L694.5,670.8 L695.5,673.6 L696.5,676.5 L697.5,679.3 L698.5,682.2 L699.5,685.0 L700.4,687.9 L701.4,690.7 L702.3,693.6 L703.3,696.5 L704.2,699.3 L705.1,702.2 L706.0,705.1 L706.9,708.0 L707.8,710.9 L708.7,713.7 L709.6,716.6 L710.5,719.5 L711.3,722.4 L712.2,725.3 L713.0,728.2 L713.8,731.1 L714.7,734.0 L715.5,736.9 L716.3,739.8 L717.1,742.7 L717.8,745.6 L718.6,748.5 L719.4,751.4 L720.1,754.3 L720.9,757.3 L721.6,760.2 L722.3,763.1 L723.1,766.0 L723.8,769.0 L724.5,771.9 L725.2,774.8 L725.8,777.7 L726.5,780.7 L727.2,783.6 L727.8,786.6 L728.5,789.5 L729.1,792.4 L729.7,795.4 L730.3,798.3 L730.9,801.3 L731.5,804.2 L732.1,807.2 L732.7,810.1 L733.2,813.1 L733.8,816.0 L734.3,819.0 L734.9,822.0 L735.4,824.9 L735.9,827.9 L736.4,830.9 L736.9,833.8 L737.4,836.8 L737.9,839.8 L738.3,842.7 L738.8,845.7 L739.2,848.7 L739.7,851.7 L740.1,854.6 L740.5,857.6 L740.9,860.6 L741.3,863.6 L741.7,866.6 L742.1,869.5 L742.4,872.5 L742.8,875.5 L743.1,878.5 L743.5,881.5 L743.8,884.5 L744.1,887.5 L744.4,890.5 L744.7,893.5 L745.0,896.5 L745.3,899.5 L745.5,902.5 L745.8,905.5 L746.0,908.5 L746.2,911.5 L746.5,914.5 L746.7,917.5 L746.9,920.5 L747.1,923.5 L747.3,926.5 L747.4,929.5 L747.6,932.5 L747.8,935.5 L747.9,938.5 L748.1,941.5 L748.2,944.5 L748.3,947.5 L748.5,950.5 L748.6,953.5 L748.7,956.6 L748.8,959.6 L748.9,962.6 L749.0,965.6 L749.1,968.6 L749.2,971.6 L749.2,974.6 L749.3,977.7 L749.4,980.7 L749.4,983.7 L749.5,986.7 L749.5,989.7 L749.6,992.7 L749.6,995.8 L749.7,998.8 L749.7,1001.8 L749.8,1004.8 L749.8,1007.8 L749.8,1010.9 L749.9,1013.9 L749.9,1016.9 L749.9,1019.9 L749.9,1022.9 L750.0,1025.9 L750.0,1029.0 L750.0,1032.0 L750.0,1035.0 L750.0,1038.0 L750.1,1041.0 L750.1,1044.1 L750.1,1047.1 L750.1,1050.1 L750.2,1053.1 L750.2,1056.1 L750.2,1059.2 L750.2,1062.2 L750.2,1065.2 L750.3,1068.2 L750.3,1071.2 L750.3,1074.2 L750.4,1077.3 L750.4,1080.3 L750.4,1083.3 L750.5,1086.3 L750.5,1089.3 L750.6,1092.3 L750.6,1095.3 L750.7,1098.3 L750.8,1101.4 L750.8,1104.4 L750.9,1107.4 L751.0,1110.4 L751.1,1113.4 L751.1,1116.4 L751.2,1119.4 L751.3,1122.4 L751.4,1125.4 L751.5,1128.4 L751.6,1131.4 L751.7,1134.4 L751.8,1137.4 L752.0,1140.4 L752.1,1143.5 L752.2,1146.5 L752.3,1149.5 L752.4,1152.5 L752.6,1155.5 L752.7,1158.5 L752.8,1161.5 L752.9,1164.5 L753.0,1167.5 L753.2,1170.5 L753.3,1173.5 L753.4,1176.5 L753.5,1179.5 L753.7,1182.5 L753.8,1185.5 L753.9,1188.5 L754.0,1191.5 L754.1,1194.5 L754.3,1197.5 L754.4,1200.5 L754.5,1203.5 L754.6,1206.5 L754.7,1209.5 L754.8,1212.5 L754.9,1215.5 L755.0,1218.5 L755.1,1221.5 L755.1,1224.5 L755.2,1227.6 L755.3,1230.6 L755.3,1233.6 L755.4,1236.6 L755.5,1239.6 L755.5,1242.6 L755.6,1245.6 L755.6,1248.6 L755.6,1251.6 L755.7,1254.7 L755.7,1257.7 L755.7,1260.7 L755.7,1263.7 L755.7,1266.7 L755.7,1269.8 L755.6,1272.8 L755.6,1275.8 L755.6,1278.8 L755.5,1281.9 L755.4,1284.9 L755.4,1287.9 L755.3,1290.9 L755.2,1294.0 L755.1,1297.0 L755.1,1294.0 L755.1,1291.0 L755.1,1288.0 L755.1,1285.0 L755.1,1282.0 L755.1,1279.0 L755.1,1276.0 L755.1,1273.0 L755.2,1270.0 L755.2,1267.0 L755.2,1263.9 L755.2,1260.9 L755.2,1257.9 L755.2,1254.9 L755.3,1251.9 L755.3,1248.9 L755.3,1245.9 L755.4,1242.9 L755.4,1239.9 L755.4,1236.9 L755.4,1233.9 L755.5,1230.9 L755.5,1227.9 L755.6,1224.9 L755.6,1221.9 L755.6,1218.9 L755.7,1215.8 L755.7,1212.8 L755.8,1209.8 L755.8,1206.8 L755.9,1203.8 L755.9,1200.8 L756.0,1197.8 L756.0,1194.8 L756.1,1191.8 L756.1,1188.8 L756.2,1185.8 L756.2,1182.8 L756.3,1179.8 L756.3,1176.7 L756.4,1173.7 L756.5,1170.7 L756.5,1167.7 L756.6,1164.7 L756.7,1161.7 L756.7,1158.7 L756.8,1155.7 L756.9,1152.7 L756.9,1149.7 L757.0,1146.7 L757.1,1143.7 L757.2,1140.6 L757.2,1137.6 L757.3,1134.6 L757.4,1131.6 L757.5,1128.6 L757.5,1125.6 L757.6,1122.6 L757.7,1119.6 L757.8,1116.6 L757.9,1113.6 L758.0,1110.6 L758.0,1107.6 L758.1,1104.5 L758.2,1101.5 L758.3,1098.5 L758.4,1095.5 L758.5,1092.5 L758.6,1089.5 L758.7,1086.5 L758.8,1083.5 L758.9,1080.5 L759.0,1077.5 L759.0,1074.5 L759.1,1071.5 L759.2,1068.5 L759.3,1065.5 L759.4,1062.4 L759.5,1059.4 L759.6,1056.4 L759.7,1053.4 L759.8,1050.4 L759.9,1047.4 L760.0,1044.4 L760.1,1041.4 L760.2,1038.4 L760.4,1035.4 L760.5,1032.4 L760.6,1029.4 L760.7,1026.4 L760.8,1023.4 L760.9,1020.4 L761.0,1017.4 L761.1,1014.4 L761.2,1011.4 L761.3,1008.4 L761.4,1005.3 L761.5,1002.3 L761.7,999.3 L761.8,996.3 L761.9,993.3 L762.0,990.3 L762.1,987.3 L762.2,984.3 L762.4,981.3 L762.5,978.3 L762.6,975.3 L762.7,972.3 L762.9,969.3 L763.0,966.3 L763.2,963.3 L763.3,960.3 L763.5,957.3 L763.7,954.3 L763.8,951.3 L764.0,948.3 L764.2,945.4 L764.4,942.4 L764.7,939.4 L764.9,936.4 L765.1,933.4 L765.4,930.4 L765.6,927.4 L765.9,924.4 L766.2,921.4 L766.5,918.5 L766.8,915.5 L767.1,912.5 L767.5,909.5 L767.8,906.5 L768.2,903.6 L768.6,900.6 L769.0,897.6 L769.4,894.6 L769.9,891.7 L770.3,888.7 L770.8,885.7 L771.3,882.8 L771.8,879.8 L772.4,876.8 L772.9,873.9 L773.5,870.9 L774.1,868.0 L774.7,865.0 L775.4,862.1 L776.1,859.1 L776.7,856.2 L777.5,853.2 L778.2,850.3 L779.0,847.4 L779.8,844.5 L780.6,841.5 L781.5,838.6 L782.4,835.7 L783.3,832.9 L784.3,830.0 L785.3,827.1 L786.3,824.3 L787.4,821.5 L788.5,818.7 L789.6,815.9 L790.8,813.9 L792.0,811.2 L793.2,808.6 L794.5,806.0 L795.9,803.4 L797.3,800.9 L798.7,798.4 L800.2,796.0 L801.7,793.5 L803.2,791.2 L804.8,788.8 L806.5,786.5 L808.2,784.2 L809.9,782.0 L811.7,779.8 L813.6,777.7 L815.4,775.6 L817.4,773.5 L819.3,771.5 L821.4,769.5 L823.4,767.5 L825.5,765.6 L827.7,763.7 L829.9,761.9 L832.1,760.1 L834.4,758.4 L836.7,756.7 L839.0,755.1 L841.4,753.5 L843.9,752.0 L846.4,750.6 L848.9,749.2 L851.5,747.8 L854.1,746.5 L856.7,745.2 L859.4,743.9 L862.1,742.6 L864.8,741.4 L867.6,740.2 L870.4,739.0 L873.2,737.8 L876.0,736.7 L878.9,735.5 L881.8,734.4 L884.7,733.3 L887.6,732.2 L890.5,731.1 L893.4,730.1 L896.3,729.1 L899.3,728.1 L902.2,727.1 L905.2,726.2 L908.1,725.2 L911.1,724.3 L914.0,723.3 L917.0,722.4 L919.9,721.5 L922.8,720.6 L925.8,719.7 L928.7,718.8 L931.6,717.9 L934.5,717.0 L937.4,716.1 L940.3,715.2 L943.2,714.4 L946.1,713.6 L949.0,712.8 L951.9,712.1 L954.8,711.3 L957.7,710.7 L960.6,710.0 L963.5,709.4 L966.5,708.8 L969.4,708.2 L972.3,707.7 L975.3,707.2 L978.2,706.7 L981.2,706.3 L984.1,705.8 L987.1,705.4 L990.0,705.0 L993.0,704.6 L996.0,704.2 L998.9,703.8 L1001.9,703.5 L1004.9,703.1 L1007.9,702.7 L1010.8,702.4 L1013.8,702.0 L1016.8,701.7 L1019.8,701.4 L1022.8,701.0 L1025.7,700.7 L1028.7,700.4 L1031.7,700.1 L1034.7,699.7 L1037.7,699.4 L1040.6,699.1 L1043.6,698.7 L1046.6,698.4 L1049.6,698.1 L1052.6,697.7 L1055.6,697.4 L1058.5,697.0 L1061.5,696.6 L1064.5,696.3 L1067.5,695.9 L1070.5,695.5 L1073.5,695.1 L1076.4,694.8 L1079.4,694.4 L1082.4,694.0 L1085.4,693.5 L1088.4,693.1 L1091.3,692.7 L1094.3,692.2 L1097.3,691.8 L1100.3,691.3 L1103.2,690.9 L1106.2,690.4 L1109.2,689.9 L1112.2,689.4 L1115.1,688.8 L1118.1,688.3 L1121.1,687.8 L1124.0,687.2 L1127.0,686.6 L1129.9,686.1 L1132.9,685.5 L1135.9,684.9 L1138.8,684.3 L1141.8,683.7 L1144.7,683.1 L1147.7,682.5 L1150.6,681.8 L1153.5,681.2 L1156.5,680.5 L1159.4,679.9 L1162.3,679.2 L1165.3,678.5 L1168.2,677.7 L1171.1,677.0 L1174.0,676.3 L1176.9,675.5 L1179.8,674.7 L1182.7,673.9 L1185.6,673.1 L1188.5,672.3 L1191.4,671.5 L1194.3,670.6 L1197.2,669.7 L1200.0,668.9 L1202.9,668.0 L1205.8,667.1 L1208.6,666.1 L1211.5,665.2 L1214.3,664.3 L1217.2,663.3 L1220.0,662.3 L1222.8,661.3 L1225.6,660.3 L1228.4,659.3 L1231.3,658.3 L1234.1,657.3 L1236.8,656.2 L1239.6,655.1 L1242.4,654.1 L1245.2,653.0 L1248.0,651.9 L1250.7,650.7 L1253.5,649.6 L1256.3,648.5 L1259.0,647.3 L1261.8,646.1 L1264.5,644.9 L1267.3,643.7 L1270.0,642.4 L1272.7,641.2 L1275.5,639.9 L1278.2,638.6 L1280.9,637.3 L1283.6,636.0 L1286.3,634.6 L1289.1,633.3 L1291.8,631.9 L1294.5,630.5 L1297.2,629.2 L1299.9,627.8 L1302.6,626.4 L1305.3,625.1 L1308.0,623.7 L1310.7,622.4 L1313.4,621.0 L1316.0,619.7 L1318.7,618.4 L1321.4,617.1 L1324.1,615.7 L1326.8,614.4 L1329.5,613.1 L1332.1,611.8 L1334.8,610.5 L1337.5,609.2 L1340.2,607.9 L1342.9,606.5 L1345.5,605.2 L1348.2,603.9 L1350.9,602.6 L1353.6,601.3 L1356.2,599.9 L1358.9,598.6 L1361.6,597.3 L1364.3,596.0 L1367.0,594.6 L1369.6,593.3 L1372.3,592.0 L1375.0,590.7 L1377.7,589.4 L1380.4,588.1 L1383.1,586.8 L1385.8,585.4 L1388.5,584.1 L1391.1,582.8 L1393.8,581.5 L1396.5,580.2 L1399.2,578.9 L1401.9,577.6 L1404.7,576.3 L1407.4,575.1 L1410.1,573.8 L1412.8,572.5 L1415.5,571.2 L1418.2,569.9 L1421.0,568.7 L1423.7,567.4 L1426.4,566.2 L1429.2,564.9 L1431.9,563.7 L1434.6,562.5 L1437.4,561.2 L1440.1,560.0 L1442.9,558.8 L1445.6,557.6 L1448.4,556.4 L1451.2,555.3 L1453.9,554.1 L1456.7,553.0 L1459.5,551.8 L1462.3,550.7 L1465.1,549.6 L1467.9,548.4 L1470.7,547.3 L1473.5,546.2 L1476.3,545.2 L1479.1,544.1 L1481.9,543.0 L1484.7,542.0 L1487.5,540.9 L1490.3,539.8 L1493.1,538.8 L1496.0,537.7 L1498.8,536.7 L1501.7,535.7 L1504.5,534.6 L1507.3,533.6 L1510.2,532.6 L1513.0,531.6 L1515.9,530.7 L1518.8,529.7 L1521.6,528.8 L1524.5,527.8 L1527.4,526.9 L1530.3,526.0 L1533.2,525.2 L1536.0,524.3 L1538.9,523.4 L1541.8,522.6 L1544.7,521.8 L1547.6,521.0 L1550.5,520.2 L1553.5,519.4 L1556.4,518.7 L1559.3,517.9 L1562.2,517.2 L1565.1,516.5 L1568.1,515.8 L1571.0,515.1 L1573.9,514.4 L1576.9,513.7 L1579.8,513.1 L1582.8,512.4 L1585.7,511.8 L1588.6,511.2 L1591.6,510.6 L1594.5,510.0 L1597.5,509.4 L1600.5,508.8 L1603.4,508.2 L1606.4,507.6 L1609.3,507.1 L1612.3,506.5 L1615.3,506.0 L1618.2,505.4 L1621.2,504.9 L1624.2,504.4 L1627.1,503.9 L1630.1,503.3 L1633.1,502.8 L1636.1,502.3 L1639.0,501.9 L1642.0,501.4 L1645.0,500.9 L1648.0,500.4 L1650.9,499.9 L1653.9,499.5 L1656.9,499.0 L1659.9,498.6 L1662.9,498.1 L1665.8,497.7 L1668.8,497.2 L1671.8,496.8 L1674.8,496.4 L1677.8,496.0 L1680.7,495.6 L1683.7,495.2 L1686.7,494.8 L1689.7,494.4 L1692.6,494.0 L1695.6,493.6 L1698.6,493.2 L1701.6,492.9 L1704.6,492.5 L1707.5,492.1 L1710.5,491.8 L1713.5,491.4 L1716.5,491.0 L1719.4,490.7 L1722.4,490.3 L1725.4,490.0 L1728.3,489.6 L1731.3,489.3 L1734.3,488.9 L1737.2,488.5 L1740.2,488.2 L1743.2,487.8 L1746.1,487.4 L1749.1,487.1 L1752.1,486.7 L1755.0,486.3 L1758.0,485.9 L1760.9,485.5 L1763.9,485.1 L1766.8,484.6 L1769.8,484.2 L1772.7,483.8 L1775.7,483.3 L1778.6,482.9 L1781.6,482.4 L1784.5,482.0 L1787.4,481.5 L1790.4,481.0 L1793.3,480.5 L1796.2,480.0 L1799.2,479.4 L1802.1,478.9 L1805.0,478.3 L1807.9,477.6 L1810.8,477.0 L1813.8,476.3 L1816.7,475.6 L1819.6,474.9 L1822.5,474.1 L1825.4,473.3 L1828.3,472.5 L1831.2,471.7 L1834.1,470.8 L1837.0,470.0 L1839.8,469.1 L1842.7,468.2 L1845.6,467.3 L1848.5,466.4 L1851.4,465.5 L1854.2,464.5 L1857.1,463.6 L1860.0,462.6 L1862.8,461.6 L1865.7,460.7 L1868.5,459.7 L1871.4,458.7 L1874.2,457.6 L1877.1,456.6 L1879.9,455.6 L1882.8,454.6 L1885.6,453.5 L1888.5,452.5 L1891.3,451.4 L1894.1,450.3 L1897.0,449.2 L1899.8,448.2 L1902.6,447.1 L1905.5,446.0 L1908.3,444.9 L1911.1,443.8 L1913.9,442.6 L1916.8,441.5 L1919.6,440.4 L1922.4,439.3 L1925.2,438.2 L1928.1,437.0 L1930.9,435.9 L1933.7,434.8 L1936.5,433.7 L1939.3,432.6 L1942.1,431.5 L1945.0,430.4 L1947.8,429.3 L1950.6,428.2 L1953.4,427.1 L1956.2,426.0 L1959.0,424.9 L1961.8,423.9 L1964.7,422.8 L1967.5,421.7 L1970.3,420.6 L1973.1,419.6 L1975.9,418.5 L1978.7,417.4 L1981.5,416.3 L1984.4,415.3 L1987.2,414.2 L1990.0,413.1 L1992.8,412.1 L1995.6,411.0 L1998.5,409.9 L2001.3,408.8 L2004.1,407.7 L2006.9,406.6 L2009.8,405.5 L2012.6,404.3 L2015.4,403.2 L2018.2,402.0 L2021.1,400.8 L2023.9,399.7 L2026.7,398.5 L2029.6,397.3 L2032.4,396.1 L2035.3,394.9 L2038.1,393.7 L2040.9,392.5 L2043.8,391.3 L2046.6,390.1 L2049.5,389.0 L2052.3,387.9 L2055.2,386.8" fill="none" stroke="#00ff00" stroke-width="17.5" stroke-linecap="round" stroke-linejoin="round"/>
<path d="M665.7,465.5 L665.7,468.6 L665.7,471.7 L665.9,474.8 L666.0,477.9 L666.2,481.0 L666.5,484.0 L666.8,487.0 L667.1,490.0 L667.6,493.0 L668.0,496.0 L668.5,499.0 L669.0,501.9 L669.6,504.8 L670.2,507.8 L670.9,510.7 L671.6,513.6 L672.3,516.4 L673.1,519.3 L673.9,522.2 L674.8,525.0 L675.6,527.9 L676.5,530.7 L677.5,533.5 L678.4,536.3 L679.4,539.1 L680.5,541.9 L681.5,544.7 L682.6,547.5 L683.7,550.2 L684.8,553.0 L685.9,555.7 L687.1,558.5 L688.3,561.2 L689.5,564.0 L690.7,566.7 L691.9,569.4 L693.2,572.2 L694.4,574.9 L695.7,577.6 L697.0,580.3 L698.3,583.0 L699.6,585.8 L700.9,588.5 L702.2,591.2 L703.6,593.9 L704.9,596.6 L706.2,599.3 L707.5,602.0 L708.9,604.7 L710.2,607.5 L711.5,610.2 L712.9,612.9 L714.2,615.6 L715.5,618.4 L716.8,621.1 L718.1,623.8 L719.4,626.6 L720.7,629.3 L722.0,632.0 L723.3,634.8 L724.6,637.5 L725.9,640.3 L727.1,643.0 L728.4,645.8 L729.6,648.6 L730.9,651.3 L732.1,654.1 L733.4,656.9 L734.6,659.6 L735.8,662.4 L737.0,665.2 L738.2,668.0 L739.4,670.8 L740.6,673.6 L741.8,676.4 L742.9,679.2 L744.1,682.0 L745.3,684.8 L746.4,687.6 L747.5,690.4 L748.6,693.2 L749.8,696.0 L750.9,698.8 L752.0,701.6 L753.0,704.5 L754.1,707.3 L755.2,710.1 L756.2,712.9 L757.3,715.8 L758.3,718.6 L759.3,721.5 L760.3,724.3 L761.3,727.2 L762.3,730.0 L763.3,732.9 L764.2,735.7 L765.2,738.6 L766.1,741.4 L767.1,744.3 L768.0,747.2 L768.9,750.0 L769.8,752.9 L770.6,755.8 L771.5,758.7 L772.3,761.5 L773.2,764.4 L774.0,767.3 L774.8,770.2 L775.6,773.1 L776.4,776.0 L777.2,778.9 L778.0,781.8 L778.7,784.7 L779.5,787.6 L780.2,790.5 L781.0,793.4 L781.7,796.3 L782.4,799.2 L783.1,802.1 L783.8,805.0 L784.4,808.0 L785.1,810.9 L785.8,813.8 L786.4,816.7 L787.0,819.7 L787.7,822.6 L788.3,825.5 L788.9,828.5 L789.5,831.4 L790.1,834.3 L790.6,837.3 L791.2,840.2 L791.8,843.2 L792.3,846.1 L792.8,849.1 L793.4,852.0 L793.9,855.0 L794.4,857.9 L794.9,860.9 L795.4,863.9 L795.9,866.8 L796.4,869.8 L796.8,872.7 L797.3,875.7 L797.7,878.7 L798.2,881.6 L798.6,884.6 L799.0,887.6 L799.4,890.6 L799.9,893.5 L800.3,896.5 L800.6,899.5 L801.0,902.5 L801.4,905.5 L801.8,908.5 L802.1,911.4 L802.5,914.4 L802.8,917.4 L803.2,920.4 L803.5,923.4 L803.9,926.4 L804.2,929.4 L804.5,932.4 L804.8,935.4 L805.1,938.4 L805.4,941.4 L805.7,944.4 L805.9,947.4 L806.2,950.4 L806.5,953.4 L806.7,956.4 L807.0,959.4 L807.2,962.4 L807.5,965.4 L807.7,968.4 L808.0,971.4 L808.2,974.4 L808.4,977.5 L808.6,980.5 L808.8,983.5 L809.0,986.5 L809.2,989.5 L809.4,992.5 L809.6,995.5 L809.8,998.6 L810.0,1001.6 L810.1,1004.6 L810.3,1007.6 L810.5,1010.7 L810.6,1013.7 L810.8,1016.7 L810.9,1019.7 L811.1,1022.7 L811.2,1025.8 L811.3,1028.8 L811.5,1031.8 L811.6,1034.9 L811.7,1037.9 L811.9,1040.9 L812.0,1043.9 L812.1,1047.0 L812.2,1050.0 L812.3,1053.0 L812.4,1056.1 L812.5,1059.1 L812.6,1062.1 L812.7,1065.1 L812.8,1068.2 L812.9,1071.2 L812.9,1074.2 L813.0,1077.3 L813.1,1080.3 L813.2,1083.3 L813.3,1086.4 L813.3,1089.4 L813.4,1092.4 L813.5,1095.5 L813.5,1098.5 L813.6,1101.5 L813.6,1104.6 L813.7,1107.6 L813.7,1110.6 L813.8,1113.7 L813.9,1116.7 L813.9,1119.7 L813.9,1122.8 L814.0,1125.8 L814.0,1128.8 L814.1,1131.9 L814.1,1134.9 L814.2,1137.9 L814.2,1141.0 L814.2,1144.0 L814.3,1147.0 L814.3,1150.0 L814.4,1153.1 L814.4,1156.1 L814.4,1159.1 L814.5,1162.2 L814.5,1165.2 L814.5,1168.2 L814.6,1171.2 L814.6,1174.3 L814.6,1177.3 L814.7,1180.3 L814.7,1183.3 L814.7,1186.4 L814.8,1189.4 L814.8,1192.4 L814.8,1195.4 L814.9,1198.5 L814.9,1201.5 L814.9,1204.5 L815.0,1207.5 L815.0,1210.5 L815.1,1213.6 L815.1,1216.6 L815.1,1219.6 L815.2,1222.6 L815.2,1225.6 L815.3,1228.6 L815.3,1231.7 L815.4,1234.7 L815.4,1237.7 L815.5,1240.7 L815.5,1243.7 L815.6,1246.7 L815.6,1249.7 L815.7,1252.7 L815.7,1255.7 L815.8,1258.7 L815.9,1261.7 L815.9,1264.7 L816.0,1267.7 L816.1,1270.7 L816.2,1273.7 L816.2,1276.7 L816.3,1279.7 L816.4,1282.7 L816.5,1285.7 L816.6,1288.7 L816.7,1291.7 L816.8,1294.6 L816.9,1297.6 L817.0,1300.6 L817.1,1303.6 L817.2,1306.6 L817.3,1309.6 L817.4,1312.5 L817.5,1315.5 L817.7,1318.5 L817.8,1321.5 L817.9,1324.4 L818.1,1327.4 L818.2,1330.4 L818.4,1333.3 L818.5,1336.3 L818.6,1333.3 L818.7,1330.3 L818.8,1327.3 L818.9,1324.3 L819.0,1321.3 L819.1,1318.3 L819.2,1315.2 L819.3,1312.2 L819.4,1309.2 L819.4,1306.2 L819.5,1303.2 L819.6,1300.2 L819.6,1297.2 L819.7,1294.2 L819.7,1291.2 L819.8,1288.2 L819.8,1285.2 L819.9,1282.1 L819.9,1279.1 L819.9,1276.1 L820.0,1273.1 L820.0,1270.1 L820.0,1267.1 L820.0,1264.1 L820.0,1261.1 L820.1,1258.1 L820.1,1255.1 L820.1,1252.1 L820.1,1249.0 L820.1,1246.0 L820.1,1243.0 L820.1,1240.0 L820.1,1237.0 L820.1,1234.0 L820.1,1231.0 L820.1,1228.0 L820.1,1225.0 L820.1,1222.0 L820.1,1219.0 L820.1,1215.9 L820.1,1212.9 L820.1,1209.9 L820.1,1206.9 L820.1,1203.9 L820.1,1200.9 L820.1,1197.9 L820.1,1194.9 L820.1,1191.9 L820.1,1188.9 L820.1,1185.9 L820.1,1182.9 L820.1,1179.9 L820.1,1176.8 L820.1,1173.8 L820.1,1170.8 L820.1,1167.8 L820.1,1164.8 L820.1,1161.8 L820.1,1158.8 L820.1,1155.8 L820.1,1152.8 L820.1,1149.8 L820.1,1146.8 L820.1,1143.8 L820.1,1140.8 L820.2,1137.8 L820.2,1134.8 L820.2,1131.7 L820.2,1128.7 L820.3,1125.7 L820.3,1122.7 L820.4,1119.7 L820.4,1116.7 L820.4,1113.7 L820.5,1110.7 L820.5,1107.7 L820.6,1104.7 L820.7,1101.7 L820.7,1098.7 L820.8,1095.7 L820.9,1092.7 L821.0,1089.7 L821.0,1086.7 L821.1,1083.7 L821.2,1080.7 L821.3,1077.7 L821.4,1074.7 L821.5,1071.7 L821.6,1068.7 L821.8,1065.7 L821.9,1062.7 L822.0,1059.7 L822.2,1056.7 L822.3,1053.7 L822.5,1050.7 L822.6,1047.7 L822.8,1044.7 L822.9,1041.7 L823.1,1038.7 L823.3,1035.7 L823.5,1032.7 L823.7,1029.7 L823.9,1026.7 L824.1,1023.7 L824.3,1020.7 L824.5,1017.7 L824.8,1014.7 L825.0,1011.7 L825.3,1008.7 L825.5,1005.7 L825.8,1002.7 L826.0,999.7 L826.3,996.8 L826.6,993.8 L826.9,990.8 L827.2,987.8 L827.5,984.8 L827.9,981.8 L828.2,978.8 L828.5,975.8 L828.9,972.8 L829.3,969.8 L829.6,966.8 L830.0,963.9 L830.4,960.9 L830.8,957.9 L831.2,954.9 L831.6,951.9 L832.1,948.9 L832.5,945.9 L833.0,942.9 L833.4,940.0 L833.9,937.0 L834.4,934.0 L834.9,931.0 L835.4,928.0 L835.9,925.0 L836.5,922.1 L837.0,919.1 L837.6,916.1 L838.1,913.1 L838.7,910.1 L839.3,907.2 L839.9,904.2 L840.5,901.2 L841.1,898.2 L841.8,895.2 L842.4,892.3 L843.1,889.3 L843.8,886.3 L844.5,883.4 L845.3,880.4 L846.0,877.5 L846.8,874.6 L847.7,871.7 L848.5,868.8 L849.4,865.9 L850.3,863.0 L851.3,860.2 L852.3,857.4 L853.3,854.6 L854.4,851.8 L855.6,849.1 L856.7,846.4 L858.0,843.7 L859.2,841.0 L860.6,838.4 L861.9,835.8 L863.4,833.2 L864.9,830.7 L866.4,828.2 L868.0,825.8 L869.7,823.4 L871.5,821.5 L873.3,819.2 L875.2,817.0 L877.1,814.9 L879.1,812.8 L881.2,810.8 L883.3,808.9 L885.5,807.0 L887.7,805.1 L890.0,803.3 L892.3,801.5 L894.7,799.8 L897.1,798.1 L899.5,796.5 L902.0,794.9 L904.5,793.3 L907.1,791.8 L909.6,790.2 L912.2,788.7 L914.8,787.3 L917.5,785.8 L920.1,784.4 L922.8,783.0 L925.4,781.6 L928.1,780.2 L930.8,778.9 L933.6,777.6 L936.3,776.4 L939.0,775.1 L941.8,773.9 L944.6,772.8 L947.4,771.6 L950.1,770.5 L953.0,769.4 L955.8,768.3 L958.6,767.2 L961.4,766.2 L964.3,765.1 L967.1,764.1 L970.0,763.2 L972.9,762.2 L975.8,761.3 L978.6,760.4 L981.5,759.5 L984.4,758.6 L987.3,757.8 L990.3,756.9 L993.2,756.1 L996.1,755.3 L999.0,754.5 L1002.0,753.7 L1004.9,752.9 L1007.8,752.2 L1010.8,751.4 L1013.7,750.7 L1016.7,750.0 L1019.6,749.3 L1022.6,748.7 L1025.5,748.0 L1028.5,747.4 L1031.5,746.8 L1034.4,746.3 L1037.4,745.7 L1040.4,745.2 L1043.3,744.7 L1046.3,744.3 L1049.3,743.9 L1052.2,743.5 L1055.2,743.1 L1058.2,742.7 L1061.2,742.3 L1064.2,742.0 L1067.1,741.6 L1070.1,741.3 L1073.1,741.0 L1076.1,740.7 L1079.1,740.3 L1082.0,740.0 L1085.0,739.8 L1088.0,739.5 L1091.0,739.2 L1094.0,738.9 L1097.0,738.7 L1099.9,738.4 L1102.9,738.2 L1105.9,737.9 L1108.9,737.7 L1111.8,737.4 L1114.8,737.2 L1117.8,736.9 L1120.8,736.6 L1123.7,736.3 L1126.7,736.0 L1129.7,735.7 L1132.7,735.4 L1135.6,735.0 L1138.6,734.6 L1141.6,734.3 L1144.5,733.9 L1147.5,733.5 L1150.4,733.0 L1153.4,732.6 L1156.4,732.2 L1159.3,731.7 L1162.3,731.3 L1165.2,730.8 L1168.2,730.3 L1171.2,729.8 L1174.1,729.3 L1177.1,728.8 L1180.0,728.3 L1183.0,727.7 L1185.9,727.2 L1188.9,726.6 L1191.8,726.0 L1194.8,725.4 L1197.7,724.8 L1200.6,724.2 L1203.6,723.6 L1206.5,723.0 L1209.5,722.4 L1212.4,721.8 L1215.4,721.1 L1218.3,720.4 L1221.2,719.8 L1224.2,719.1 L1227.1,718.4 L1230.0,717.7 L1233.0,716.9 L1235.9,716.2 L1238.8,715.5 L1241.8,714.7 L1244.7,713.9 L1247.6,713.1 L1250.5,712.3 L1253.4,711.5 L1256.3,710.7 L1259.2,709.8 L1262.1,708.9 L1265.0,708.0 L1267.9,707.1 L1270.8,706.2 L1273.6,705.2 L1276.5,704.2 L1279.4,703.2 L1282.2,702.1 L1285.0,701.0 L1287.9,699.9 L1290.7,698.8 L1293.5,697.7 L1296.3,696.5 L1299.1,695.4 L1301.9,694.2 L1304.7,693.0 L1307.5,691.8 L1310.2,690.5 L1313.0,689.3 L1315.8,688.0 L1318.5,686.7 L1321.3,685.4 L1324.0,684.1 L1326.7,682.8 L1329.5,681.5 L1332.2,680.1 L1334.9,678.8 L1337.6,677.4 L1340.4,676.1 L1343.1,674.7 L1345.8,673.3 L1348.5,672.0 L1351.2,670.6 L1353.9,669.3 L1356.6,667.9 L1359.3,666.6 L1361.9,665.3 L1364.6,663.9 L1367.3,662.6 L1370.0,661.3 L1372.7,659.9 L1375.3,658.6 L1378.0,657.2 L1380.7,655.9 L1383.3,654.5 L1386.0,653.2 L1388.7,651.8 L1391.3,650.5 L1394.0,649.1 L1396.7,647.8 L1399.3,646.4 L1402.0,645.1 L1404.6,643.7 L1407.3,642.4 L1410.0,641.1 L1412.6,639.7 L1415.3,638.4 L1417.9,637.1 L1420.6,635.8 L1423.3,634.4 L1425.9,633.1 L1428.6,631.8 L1431.2,630.5 L1433.9,629.2 L1436.6,627.9 L1439.2,626.6 L1441.9,625.3 L1444.6,624.0 L1447.3,622.7 L1449.9,621.5 L1452.6,620.2 L1455.3,618.9 L1458.0,617.7 L1460.7,616.5 L1463.4,615.2 L1466.1,614.0 L1468.8,612.8 L1471.5,611.6 L1474.2,610.4 L1476.9,609.2 L1479.6,608.0 L1482.3,606.8 L1485.1,605.6 L1487.8,604.4 L1490.5,603.2 L1493.3,602.0 L1496.0,600.8 L1498.8,599.6 L1501.5,598.4 L1504.3,597.3 L1507.1,596.1 L1509.8,594.9 L1512.6,593.7 L1515.4,592.5 L1518.2,591.4 L1521.0,590.2 L1523.8,589.1 L1526.6,587.9 L1529.4,586.8 L1532.2,585.7 L1535.0,584.6 L1537.8,583.5 L1540.6,582.4 L1543.5,581.3 L1546.3,580.3 L1549.1,579.2 L1552.0,578.2 L1554.8,577.1 L1557.7,576.1 L1560.5,575.1 L1563.4,574.1 L1566.3,573.1 L1569.1,572.2 L1572.0,571.2 L1574.9,570.3 L1577.8,569.4 L1580.7,568.5 L1583.5,567.6 L1586.4,566.7 L1589.3,565.8 L1592.2,565.0 L1595.1,564.2 L1598.0,563.3 L1601.0,562.5 L1603.9,561.7 L1606.8,561.0 L1609.7,560.2 L1612.6,559.4 L1615.6,558.7 L1618.5,558.0 L1621.4,557.3 L1624.4,556.6 L1627.3,555.9 L1630.2,555.2 L1633.2,554.5 L1636.1,553.9 L1639.0,553.2 L1642.0,552.6 L1644.9,552.0 L1647.8,551.4 L1650.8,550.7 L1653.7,550.1 L1656.6,549.5 L1659.5,548.8 L1662.5,548.2 L1665.4,547.6 L1668.3,546.9 L1671.2,546.3 L1674.2,545.7 L1677.1,545.1 L1680.0,544.5 L1682.9,543.9 L1685.9,543.4 L1688.8,542.8 L1691.8,542.3 L1694.7,541.8 L1697.6,541.3 L1700.6,540.8 L1703.5,540.4 L1706.5,539.9 L1709.5,539.4 L1712.4,538.9 L1715.4,538.5 L1718.4,538.0 L1721.3,537.6 L1724.3,537.1 L1727.3,536.6 L1730.3,536.2 L1733.2,535.7 L1736.2,535.3 L1739.2,534.9 L1742.2,534.5 L1745.2,534.0 L1748.2,533.6 L1751.1,533.2 L1754.1,532.9 L1757.1,532.5 L1760.1,532.1 L1763.1,531.8 L1766.1,531.4 L1769.1,531.1 L1772.1,530.7 L1775.1,530.4 L1778.0,530.0 L1781.0,529.7 L1784.0,529.3 L1787.0,529.0 L1790.0,528.6 L1793.0,528.3 L1796.0,527.9 L1798.9,527.5 L1801.9,527.2 L1804.9,526.8 L1807.9,526.4 L1810.8,526.0 L1813.8,525.7 L1816.8,525.3 L1819.7,524.9 L1822.7,524.5 L1825.6,524.1 L1828.6,523.7 L1831.6,523.3 L1834.5,522.9 L1837.5,522.4 L1840.4,522.0 L1843.4,521.5 L1846.3,521.1 L1849.2,520.6 L1852.2,520.1 L1855.1,519.6 L1858.0,519.0 L1861.0,518.4 L1863.9,517.8 L1866.8,517.2 L1869.7,516.6 L1872.7,515.9 L1875.6,515.3 L1878.5,514.6 L1881.4,513.9 L1884.3,513.1 L1887.2,512.4 L1890.1,511.6 L1893.0,510.8 L1895.9,510.0 L1898.8,509.2 L1901.7,508.3 L1904.6,507.4 L1907.5,506.5 L1910.4,505.6 L1913.2,504.6 L1916.1,503.6 L1919.0,502.6 L1921.9,501.6 L1924.7,500.6 L1927.6,499.6 L1930.5,498.6 L1933.3,497.5 L1936.2,496.5 L1939.0,495.5 L1941.9,494.4 L1944.8,493.4 L1947.6,492.4 L1950.5,491.4 L1953.3,490.3 L1956.1,489.3 L1959.0,488.3 L1961.8,487.3 L1964.7,486.2 L1967.5,485.2 L1970.3,484.2 L1973.2,483.1 L1976.0,482.1 L1978.8,481.0 L1981.7,480.0 L1984.5,479.0 L1987.3,477.9 L1990.2,476.9 L1993.0,475.8 L1995.8,474.8 L1998.6,473.7 L2001.5,472.6 L2004.3,471.6 L2007.1,470.5 L2009.9,469.4 L2012.7,468.4 L2015.6,467.3 L2018.4,466.2 L2021.2,465.1 L2024.0,464.0 L2026.8,462.9 L2029.7,461.8 L2032.5,460.7 L2035.3,459.5 L2038.1,458.4 L2040.9,457.3 L2043.7,456.1 L2046.6,455.0 L2049.4,453.8 L2052.2,452.7 L2055.0,451.5 L2057.8,450.3 L2060.7,449.1 L2063.5,447.9 L2066.3,446.7 L2069.1,445.5 L2072.0,444.3 L2074.8,443.1 L2077.6,441.9 L2080.4,440.6 L2083.3,439.4 L2086.1,438.2 L2088.9,437.0 L2091.7,435.8 L2094.6,434.6 L2097.4,433.3 L2100.3,432.1 L2103.1,430.9 L2105.9,429.7 L2108.8,428.6 L2111.6,427.4 L2114.5,426.3 L2117.3,424.8" fill="none" stroke="#0000ff" stroke-width="17.5" stroke-linecap="round" stroke-linejoin="round"/>
</g>
<path d="M370.0,73.5 L370.0,1414.5" fill="none" stroke="#000" stroke-width="7.0" stroke-linecap="butt"/>
<path d="M343.5,1414.5 L2180.1,1414.5" fill="none" stroke="#000" stroke-width="7.0" stroke-linecap="round"/>
<path d="M343.5,73.5 L370.0,73.5 M356.5,261.0 L370.0,261.0 M356.5,213.7 L370.0,213.7 M356.5,180.2 L370.0,180.2 M356.5,154.2 L370.0,154.2 M356.5,133.0 L370.0,133.0 M356.5,115.0 L370.0,115.0 M356.5,99.5 L370.0,99.5 M356.5,85.8 L370.0,85.8 M343.5,341.7 L370.0,341.7 M356.5,529.2 L370.0,529.2 M356.5,481.9 L370.0,481.9 M356.5,448.4 L370.0,448.4 M356.5,422.4 L370.0,422.4 M356.5,401.2 L370.0,401.2 M356.5,383.2 L370.0,383.2 M356.5,367.7 L370.0,367.7 M356.5,354.0 L370.0,354.0 M343.5,609.9 L370.0,609.9 M356.5,797.4 L370.0,797.4 M356.5,750.1 L370.0,750.1 M356.5,716.6 L370.0,716.6 M356.5,690.6 L370.0,690.6 M356.5,669.4 L370.0,669.4 M356.5,651.4 L370.0,651.4 M356.5,635.9 L370.0,635.9 M356.5,622.2 L370.0,622.2 M343.5,878.1 L370.0,878.1 M356.5,1065.6 L370.0,1065.6 M356.5,1018.3 L370.0,1018.3 M356.5,984.8 L370.0,984.8 M356.5,958.8 L370.0,958.8 M356.5,937.6 L370.0,937.6 M356.5,919.6 L370.0,919.6 M356.5,904.1 L370.0,904.1 M356.5,890.4 L370.0,890.4 M343.5,1146.3 L370.0,1146.3 M356.5,1333.8 L370.0,1333.8 M356.5,1286.5 L370.0,1286.5 M356.5,1253.0 L370.0,1253.0 M356.5,1227.0 L370.0,1227.0 M356.5,1205.8 L370.0,1205.8 M356.5,1187.8 L370.0,1187.8 M356.5,1172.3 L370.0,1172.3 M356.5,1158.6 L370.0,1158.6 M431.5,1414.5 L431.5,1428.0 M556.4,1414.5 L556.4,1441.0 M681.3,1414.5 L681.3,1428.0 M806.2,1414.5 L806.2,1441.0 M931.1,1414.5 L931.1,1428.0 M1056.0,1414.5 L1056.0,1441.0 M1180.9,1414.5 L1180.9,1428.0 M1305.8,1414.5 L1305.8,1441.0 M1430.7,1414.5 L1430.7,1428.0 M1555.6,1414.5 L1555.6,1441.0 M1680.5,1414.5 L1680.5,1428.0 M1805.4,1414.5 L1805.4,1441.0 M1930.3,1414.5 L1930.3,1428.0 M2055.2,1414.5 L2055.2,1441.0 M2180.1,1414.5 L2180.1,1428.0" fill="none" stroke="#000" stroke-width="7.0" stroke-linecap="round"/>
<text transform="translate(212.45,98.50) scale(1,1.05)" font-size="68">10</text>
<text transform="translate(288.20,59.10) scale(1,1.05)" font-size="40">-7</text>
<text transform="translate(212.45,366.70) scale(1,1.05)" font-size="68">10</text>
<text transform="translate(288.20,327.30) scale(1,1.05)" font-size="40">-8</text>
<text transform="translate(212.45,634.90) scale(1,1.05)" font-size="68">10</text>
<text transform="translate(288.20,595.50) scale(1,1.05)" font-size="40">-9</text>
<text transform="translate(190.05,903.10) scale(1,1.05)" font-size="68">10</text>
<text transform="translate(266.50,863.70) scale(1,1.05)" font-size="40">-10</text>
<text transform="translate(190.05,1171.30) scale(1,1.05)" font-size="68">10</text>
<text transform="translate(266.50,1131.90) scale(1,1.05)" font-size="40">-11</text>
<text transform="translate(190.05,1439.50) scale(1,1.05)" font-size="68">10</text>
<text transform="translate(266.50,1400.10) scale(1,1.05)" font-size="40">-12</text>
<text transform="translate(555.40,1513.30) scale(1,1.05)" font-size="68" text-anchor="middle">-0.2</text>
<text transform="translate(805.20,1513.30) scale(1,1.05)" font-size="68" text-anchor="middle">0.0</text>
<text transform="translate(1055.00,1513.30) scale(1,1.05)" font-size="68" text-anchor="middle">0.2</text>
<text transform="translate(1304.80,1513.30) scale(1,1.05)" font-size="68" text-anchor="middle">0.4</text>
<text transform="translate(1554.60,1513.30) scale(1,1.05)" font-size="68" text-anchor="middle">0.6</text>
<text transform="translate(1804.40,1513.30) scale(1,1.05)" font-size="68" text-anchor="middle">0.8</text>
<text transform="translate(2054.20,1513.30) scale(1,1.05)" font-size="68" text-anchor="middle">1.0</text>
<text transform="translate(1053.60,1641.40) scale(1,1.05)" font-size="75">E, V</text>
<text transform="translate(1218.16,1641.40)" font-size="75" font-style="italic">vs.</text>
<text transform="translate(1341.26,1641.40) scale(1,1.05)" font-size="75">SCE</text>
<text transform="translate(99.50,962.80) rotate(-90) scale(1,1.05)" font-size="78">i, A×cm</text>
<text transform="translate(56.90,683.17) rotate(-90) scale(1,1.05)" font-size="48">-2</text>
<path d="M1564,904.20 L1724.2,904.20" stroke="#000000" stroke-width="17.5" stroke-linecap="round" fill="none"/>
<text transform="translate(1744.00,929.80) scale(1,1.05)" font-size="68">0 h</text>
<path d="M1564,992.95 L1724.2,992.95" stroke="#ff0000" stroke-width="17.5" stroke-linecap="round" fill="none"/>
<text transform="translate(1744.00,1018.30) scale(1,1.05)" font-size="68">504 h</text>
<path d="M1564,1081.70 L1724.2,1081.70" stroke="#00ff00" stroke-width="17.5" stroke-linecap="round" fill="none"/>
<text transform="translate(1744.00,1106.60) scale(1,1.05)" font-size="68">1512 h</text>
<path d="M1564,1170.45 L1724.2,1170.45" stroke="#0000ff" stroke-width="17.5" stroke-linecap="round" fill="none"/>
<text transform="translate(1744.00,1195.20) scale(1,1.05)" font-size="68">3024 h</text>
</svg></body></html>
